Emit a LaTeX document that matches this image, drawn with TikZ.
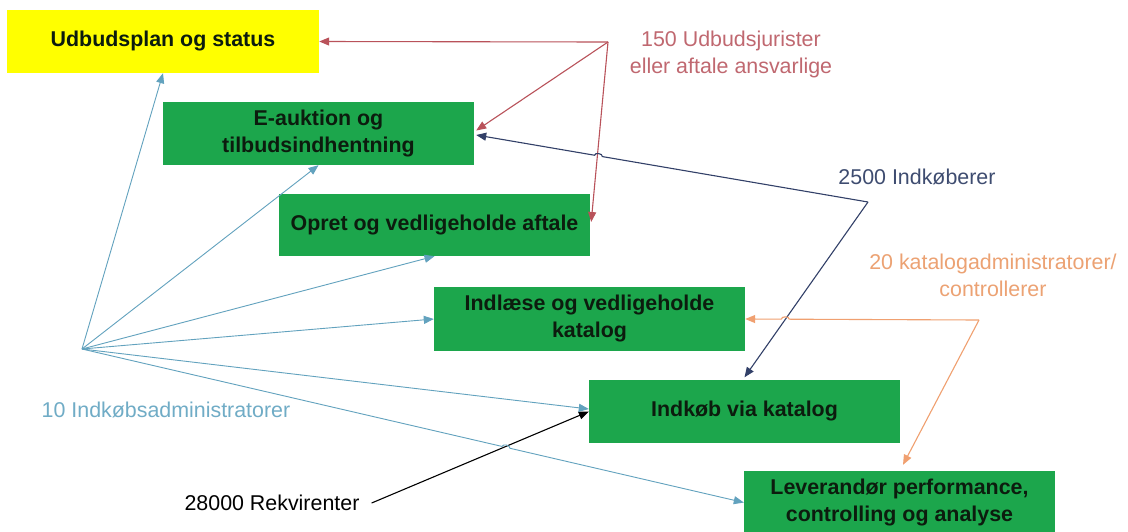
\documentclass[tikz,border=0pt]{standalone}
\usepackage{fontspec}
\setmainfont{Liberation Sans}
\usetikzlibrary{arrows.meta,calc}

\definecolor{boxgreen}{RGB}{28,166,76}
\definecolor{planyellow}{RGB}{255,255,0}
\definecolor{boxtext}{RGB}{12,28,14}
\definecolor{legal}{RGB}{185,82,90}
\definecolor{legaltext}{RGB}{192,104,112}
\definecolor{buyer}{RGB}{50,64,104}
\definecolor{buyertext}{RGB}{62,76,112}
\definecolor{catalog}{RGB}{240,160,112}
\definecolor{catalogtext}{RGB}{236,162,115}
\definecolor{admin}{RGB}{98,162,190}
\definecolor{admintext}{RGB}{112,172,198}

\begin{document}
\begin{tikzpicture}[x=1pt,y=-1pt,
  task/.style={fill=boxgreen, minimum width=311pt, minimum height=63pt,
    inner sep=0pt, align=center, text=boxtext,
    font=\fontsize{21.4}{27}\selectfont\bfseries},
  role/.style={inner sep=0pt, align=center,
    font=\fontsize{21.4}{27}\selectfont},
  link/.style={line width=1.1pt, -{Triangle[length=10pt,width=8pt]}},
  thin link/.style={link, line width=0.9pt}]

\fill[white] (0,0) rectangle (1128,531);
\useasboundingbox (0,0) rectangle (1128,531);

% process boxes
\node[task, fill=planyellow, minimum width=312pt] (plan) at (163,41.5) {Udbudsplan og status};
\node[task] (auction) at (318.5,133.5) {E-auktion og\\tilbudsindhentning};
\node[task, minimum height=62pt] (contract) at (434.5,225) {Opret og vedligeholde aftale};
\node[task, minimum height=64pt] (load) at (589.5,319) {Indlæse og vedligeholde\\katalog};
\node[task] (buy) at (744.5,411.5) {Indkøb via katalog};
\node[task] (perf) at (899.5,502.5) {Leverandør performance,\\controlling og analyse};

% roles
\node[role, text=legaltext] (legal) at (731,54) {150 Udbudsjurister\\eller aftale ansvarlige};
\node[role, text=buyertext] (buyers) at (917,177) {2500 Indkøberer};
\node[role, text=catalogtext] (cat) at (993,275) {20 katalogadministratorer/\\controllerer};
\node[role, text=admintext] (admins) at (166,410) {10 Indkøbsadministratorer};
\node[role, text=black] (req) at (272,503) {28000 Rekvirenter};

% fan-out points of each role
\coordinate (legalhub) at (608,42);
\coordinate (buyerhub) at (868,202);
\coordinate (cathub) at (979,320);
\coordinate (adminhub) at (82,349);

% arrow targets on the boxes
\coordinate (auctionA) at ([xshift=2pt,yshift=3pt]auction.east);
\coordinate (auctionB) at ([xshift=2pt,yshift=-1.5pt]auction.east);
\coordinate (contractA) at ([xshift=1pt,yshift=3pt]contract.east);
\coordinate (buyTop) at ([yshift=2.5pt]buy.north);
\coordinate (buyLeft) at ([yshift=2.5pt]buy.west);
\coordinate (perfTop) at ([xshift=3.5pt,yshift=6pt]perf.north);
\coordinate (reqEnd) at ([xshift=12pt]req.east);

% legal staff
\draw[link, legal] (legalhub) -- (plan.east);
\draw[link, legal] (legalhub) -- (auctionA);
\draw[link, legal] (legalhub) -- (contractA);

% requisitioners
\draw[link, black] (reqEnd) -- (buy.west);

% buyers (hop over the legal line)
\path (buyerhub) -- (auctionB) coordinate[pos=0.688] (hopB);
\draw[link, buyer] (buyerhub) -- ($(hopB)!4pt!(buyerhub)$)
  to[bend right=90] ($(hopB)!4pt!(auctionB)$) -- (auctionB);
\draw[link, buyer] (buyerhub) -- (buyTop);

% catalogue administrators (hop over the buyer line)
\path (cathub) -- (load.east) coordinate[pos=0.8286] (hopC);
\draw[link, catalog] (cathub) -- ($(hopC)!4pt!(cathub)$)
  to[bend right=90] ($(hopC)!4pt!(load.east)$) -- (load.east);
\draw[link, catalog] (cathub) -- (perfTop);

% purchasing administrators
\draw[thin link, admin] (adminhub) -- (plan.south);
\draw[thin link, admin] (adminhub) -- (auction.south);
\draw[thin link, admin] (adminhub) -- (contract.south);
\draw[thin link, admin] (adminhub) -- (load.west);
\draw[thin link, admin] (adminhub) -- (buyLeft);
\path (adminhub) -- (perf.west) coordinate[pos=0.6406] (hopA);
\draw[thin link, admin] (adminhub) -- ($(hopA)!4pt!(adminhub)$)
  to[bend left=90] ($(hopA)!4pt!(perf.west)$) -- (perf.west);

\end{tikzpicture}
\end{document}
